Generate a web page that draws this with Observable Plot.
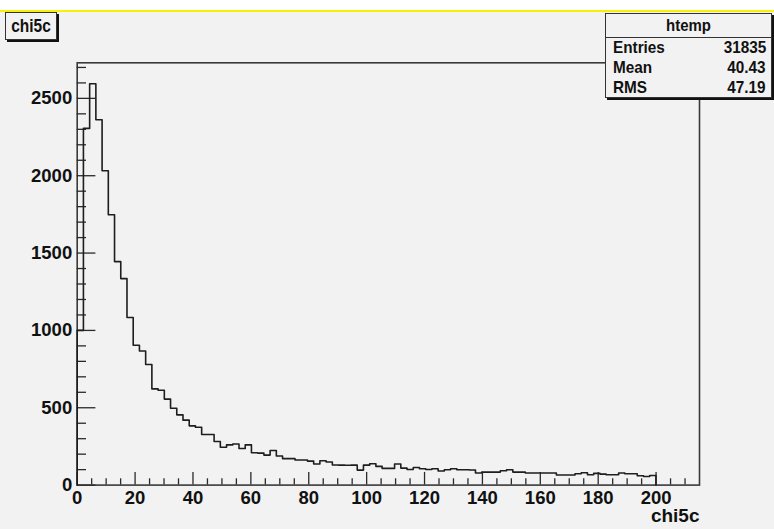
<!DOCTYPE html>
<html>
<head>
<meta charset="utf-8">
<script src="https://cdn.jsdelivr.net/npm/d3@7"></script>
<script src="https://cdn.jsdelivr.net/npm/@observablehq/plot@0.6"></script>
<style>
  html, body { margin: 0; padding: 0; background: #f2f2f2; }
  #wrap { position: relative; width: 774px; height: 529px; background: #f2f2f2; overflow: hidden;
          font-family: "Liberation Sans", Arial, Helvetica, sans-serif; font-weight: bold; color: #111; }
  #topwhite { position: absolute; left: 0; top: 0; width: 774px; height: 9.5px; background: #ffffff; }
  #topyellow { position: absolute; left: 0; top: 9.5px; width: 774px; height: 2px; background: #f4f400; }
  #chart { position: absolute; left: 0; top: 0; }
  #titlebox { position: absolute; left: 5px; top: 12px; width: 50px; height: 26px; border: 1px solid #333;
              box-shadow: 2px 2px 0 #111; background: #f2f2f2; font-size: 18px; line-height: 26px; text-align: center; }
  #titlebox span { display: inline-block; transform: scaleX(0.86); transform-origin: center; }
  #stats { position: absolute; left: 605px; top: 12.5px; width: 165px; height: 83px; border: 1px solid #333;
           box-shadow: 2px 2px 0 #111; background: #f2f2f2; font-size: 17px; }
  #stats .head { height: 23px; line-height: 23px; text-align: center; border-bottom: 1px solid #333; }
  #stats .head span { display: inline-block; transform: scaleX(0.88); }
  #stats .row { position: relative; height: 20px; line-height: 20px; }
  #stats .row .l { position: absolute; left: 7px; transform: scaleX(0.9); transform-origin: left center; }
  #stats .row .v { position: absolute; right: 5px; transform: scaleX(0.9); transform-origin: right center; }
</style>
</head>
<body>
<div id="wrap">
  <div id="chart"></div>
  <div id="topwhite"></div>
  <div id="topyellow"></div>
  <div id="titlebox"></div>
  <div id="stats"></div>
</div>
<script>
// ---- data ----
const histName = "htemp";
const varName = "chi5c";
const binStart = 0;
const binWidth = 2.15;
const counts = [
  1000, 2306, 2595, 2362, 2032, 1748, 1445, 1335, 1083, 904,
  867, 780, 622, 613, 556, 497, 454, 420, 383, 374,
  327, 327, 282, 245, 260, 266, 237, 260, 209, 207,
  194, 224, 188, 171, 171, 162, 162, 155, 136, 157,
  149, 130, 129, 128, 129, 97, 129, 138, 121, 108,
  108, 136, 110, 101, 114, 106, 101, 106, 91, 99,
  106, 99, 99, 98, 78, 84, 84, 84, 93, 99,
  84, 84, 78, 78, 78, 78, 78, 65, 65, 65,
  73, 80, 67, 76, 71, 67, 67, 78, 73, 73,
  60, 56, 62
];
const statLabels = ["Entries", "Mean", "RMS"];
const statValues = ["31835", "40.43", "47.19"];
const xMajorTicks = [0, 20, 40, 60, 80, 100, 120, 140, 160, 180, 200];
const xMinorTicks = [5, 10, 15, 25, 30, 35, 45, 50, 55, 65, 70, 75, 85, 90, 95, 105, 110, 115, 125, 130, 135, 145, 150, 155, 165, 170, 175, 185, 190, 195, 205, 210];
const yMajorTicks = [0, 500, 1000, 1500, 2000, 2500];
const yMinorTicks = [100, 200, 300, 400, 600, 700, 800, 900, 1100, 1200, 1300, 1400, 1600, 1700, 1800, 1900, 2100, 2200, 2300, 2400, 2600, 2700];
const xDomain = [0, 215];
const yDomain = [0, 2730];

// ---- histogram outline points (step-after) ----
const pts = [{x: binStart, y: 0}];
counts.forEach((c, i) => pts.push({x: binStart + i * binWidth, y: c}));
pts.push({x: binStart + counts.length * binWidth, y: 0});

const W = 774, H = 529;
const mL = 76.7, mR = 75, mT = 62.3, mB = 44.4;
const innerW = W - mL - mR, innerH = H - mT - mB;
const ink = "#2a2a2a";

const chart = Plot.plot({
  width: W, height: H,
  marginLeft: mL, marginRight: mR, marginTop: mT, marginBottom: mB,
  x: {domain: xDomain},
  y: {domain: yDomain},
  style: {background: "transparent", fontFamily: '"Liberation Sans", Arial, Helvetica, sans-serif', overflow: "visible"},
  marks: [
    Plot.frame({stroke: "#3a3a3a", strokeWidth: 1.6}),
    Plot.ruleX(xMajorTicks, {x: d => d, insetTop: innerH - 12.7, stroke: ink, strokeWidth: 1.3}),
    Plot.ruleX(xMinorTicks, {x: d => d, insetTop: innerH - 6.3, stroke: ink, strokeWidth: 1.3}),
    Plot.ruleY(yMajorTicks, {y: d => d, insetRight: innerW - 18.7, stroke: ink, strokeWidth: 1.3}),
    Plot.ruleY(yMinorTicks, {y: d => d, insetRight: innerW - 9.3, stroke: ink, strokeWidth: 1.3}),
    Plot.line(pts, {x: "x", y: "y", curve: "step-after", stroke: "#1e1e1e", strokeWidth: 1.6}),
    Plot.axisX({ticks: xMajorTicks, tickSize: 0, tickPadding: 6, tickFormat: d => `${d}`, label: null,
                fontSize: 18.5, fontWeight: "bold", fill: "#111"}),
    Plot.axisY({ticks: yMajorTicks, tickSize: 0, tickPadding: 5, tickFormat: d => `${d}`, label: null,
                fontSize: 18.5, fontWeight: "bold", fill: "#111"}),
    Plot.text([varName], {frameAnchor: "bottom-right", textAnchor: "end", dy: 37, fontSize: 19, fontWeight: "bold", fill: "#111"})
  ]
});
document.getElementById("chart").appendChild(chart);

// ---- title box ----
const tspan = document.createElement("span");
tspan.textContent = varName;
document.getElementById("titlebox").appendChild(tspan);

// ---- stats box ----
const stats = document.getElementById("stats");
const head = document.createElement("div");
head.className = "head";
const hs = document.createElement("span");
hs.textContent = histName;
head.appendChild(hs);
stats.appendChild(head);
statLabels.forEach((lab, i) => {
  const row = document.createElement("div");
  row.className = "row";
  const l = document.createElement("span"); l.className = "l"; l.textContent = lab;
  const v = document.createElement("span"); v.className = "v"; v.textContent = statValues[i];
  row.appendChild(l); row.appendChild(v);
  stats.appendChild(row);
});
</script>
</body>
</html>
